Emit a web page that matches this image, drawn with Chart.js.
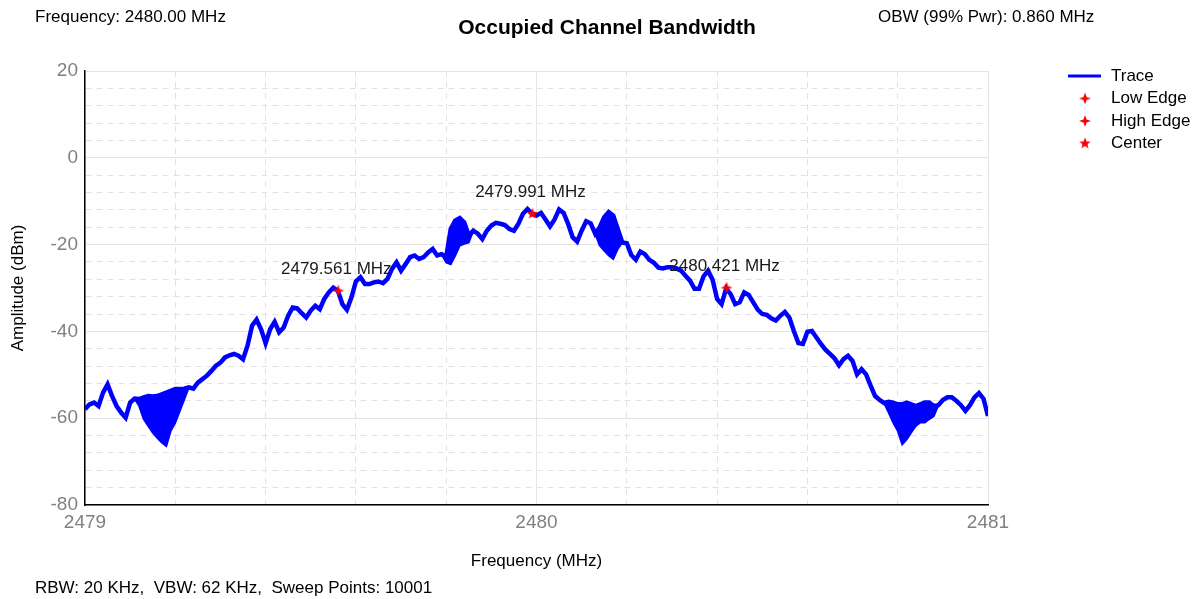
<!DOCTYPE html>
<html>
<head>
<meta charset="utf-8">
<script src="https://cdn.jsdelivr.net/npm/chart.js@4/dist/chart.umd.min.js"></script>
<style>
  html, body { margin: 0; padding: 0; background: #ffffff; }
  canvas { display: block; }
</style>
</head>
<body>
<canvas id="graficoObw" width="1203" height="599"></canvas>
<script>
// ------------------------------------------------ DATOS ------------------------------------------------

    const traceDbm = [
        -57.9, -56.8, -56.4, -57.2, -54.1, -52.2, -54.9, -57.2, -58.7, -59.9,
        -56.4, -55.5, -55.6, -55.2, -54.9, -55.0, -54.9, -54.5, -54.1, -53.7,
        -53.3, -53.3, -53.2, -52.9, -53.2, -51.8, -51.0, -50.2, -49.1, -47.9,
        -47.2, -46.0, -45.5, -45.2, -45.6, -46.4, -43.3, -38.7, -37.3, -39.5,
        -42.7, -39.5, -37.8, -40.2, -39.1, -36.4, -34.5, -34.7, -35.8, -36.8,
        -35.2, -34.1, -34.9, -32.5, -31.0, -29.9, -30.6, -33.7, -35.0, -32.2,
        -28.5, -27.5, -29.1, -29.1, -28.7, -28.5, -28.9, -27.9, -25.6, -24.1,
        -26.0, -24.5, -22.9, -22.5, -23.3, -22.9, -21.8, -21.0, -22.5, -22.2,
        -22.9, -16.4, -14.5, -13.9, -14.9, -17.9, -16.8, -17.5, -18.7, -16.8,
        -15.6, -15.0, -15.2, -15.5, -16.4, -16.8, -15.2, -12.9, -11.8, -12.9,
        -13.3, -12.7, -14.2, -15.8, -14.2, -11.9, -12.7, -15.2, -18.3, -19.3,
        -16.8, -14.6, -15.1, -17.5, -16.0, -13.7, -12.5, -13.3, -16.4, -19.5,
        -19.7, -22.4, -23.5, -21.6, -22.2, -23.5, -24.2, -25.3, -25.5, -25.2,
        -25.2, -25.5, -26.0, -27.2, -28.3, -30.2, -30.2, -27.3, -26.0, -28.1,
        -32.5, -33.7, -30.1, -31.4, -33.7, -33.3, -31.0, -31.6, -33.3, -35.0,
        -36.0, -36.2, -37.0, -37.5, -36.4, -35.5, -36.8, -39.9, -42.7, -42.9,
        -40.1, -39.9, -41.4, -42.9, -44.2, -45.2, -46.2, -47.8, -46.4, -45.6,
        -46.8, -49.9, -48.7, -49.9, -52.5, -54.9, -55.8, -56.5, -56.2, -56.4,
        -56.8, -56.8, -56.4, -56.8, -57.2, -56.8, -56.4, -56.4, -57.2, -57.0,
        -55.8, -55.2, -55.2, -56.0, -57.0, -58.3, -57.0, -55.2, -54.2, -55.5,
        -59.5
    ];

    // lower edge of the noisy (thick) parts of the trace, index -> dBm
    const bandaInferior = {
        12: -57.2, 13: -60.2, 14: -61.8, 15: -63.3, 16: -64.5, 17: -65.6,
        18: -66.4, 19: -62.9, 20: -61.0, 21: -58.3, 22: -55.6,
        80: -24.1, 81: -24.5, 82: -22.5, 83: -20.2, 84: -19.8, 85: -19.5,
        114: -20.2, 115: -21.4, 116: -22.5, 117: -23.3, 118: -21.0,
        178: -58.7, 179: -61.0, 180: -62.9, 181: -66.0, 182: -64.9, 183: -63.3,
        184: -61.8, 185: -61.0, 186: -61.0, 187: -60.2, 188: -59.5
    };

    const freqInicio = 2479;
    const freqPaso = 0.01;

    const marcadoresNombres = ["Low Edge", "High Edge", "Center"];
    const marcadoresFreq = [2479.561, 2480.421, 2479.991];
    const marcadoresDbm = [-30.6, -29.9, -12.9];

    const ticksFreqEtiquetas = [2479, 2480, 2481];
    const ticksDbmEtiquetas = [-80, -60, -40, -20, 0, 20];

    const textoFrecuencia = 'Frequency: 2480.00 MHz';
    const textoTitulo = 'Occupied Channel Bandwidth';
    const textoObw = 'OBW (99% Pwr): 0.860 MHz';
    const textoPie = 'RBW: 20 KHz,  VBW: 62 KHz,  Sweep Points: 10001';

// ------------------------------------------------ ESTRELLAS ------------------------------------------------

    function crearEstrella(puntas, rExt, rInt) {
        const c = document.createElement('canvas');
        const s = Math.ceil(rExt * 2 + 2);
        c.width = s; c.height = s;
        const g = c.getContext('2d');
        g.fillStyle = '#ff0000';
        g.beginPath();
        for (let i = 0; i < puntas * 2; i++) {
            const r = i % 2 === 0 ? rExt : rInt;
            const a = -Math.PI / 2 + i * Math.PI / puntas;
            const px = s / 2 + r * Math.cos(a);
            const py = s / 2 + r * Math.sin(a);
            if (i === 0) g.moveTo(px, py); else g.lineTo(px, py);
        }
        g.closePath();
        g.fill();
        return c;
    }

    const estrella4 = crearEstrella(4, 6, 2.2);
    const estrella5 = crearEstrella(5, 6, 2.6);
    const marcadoresIconos = [estrella4, estrella4, estrella5];

// ------------------------------------------------ DATASETS ------------------------------------------------

    const puntosTraza = traceDbm.map((v, i) => ({ x: +(freqInicio + i * freqPaso).toFixed(2), y: v }));
    const puntosBanda = traceDbm.map((v, i) => ({
        x: +(freqInicio + i * freqPaso).toFixed(2),
        y: bandaInferior[i] !== undefined ? bandaInferior[i] : v
    }));

    const datasets = [{
        label: 'Trace',
        data: puntosTraza,
        borderColor: '#0000ff',
        backgroundColor: '#0000ff',
        borderWidth: 4.5,
        pointRadius: 0,
        tension: 0,
        order: 2
    }, {
        label: '',
        data: puntosBanda,
        borderColor: '#0000ff',
        backgroundColor: '#0000ff',
        borderWidth: 2,
        pointRadius: 0,
        tension: 0,
        fill: '-1',
        order: 3
    }];

    marcadoresNombres.forEach((nombre, i) => {
        datasets.push({
            label: nombre,
            data: [{ x: marcadoresFreq[i], y: marcadoresDbm[i] }],
            showLine: false,
            pointStyle: marcadoresIconos[i],
            pointRadius: 6,
            borderColor: '#ff0000',
            backgroundColor: '#ff0000',
            order: 1
        });
    });

// ------------------------------------------------ TEXTOS / LEYENDA ------------------------------------------------

    const fuente = '"Liberation Sans", Arial, sans-serif';

    const pluginTextos = {
        id: 'textos',
        afterDraw(chart) {
            const ctx = chart.ctx;
            ctx.save();
            ctx.textBaseline = 'middle';

            ctx.fillStyle = '#000000';
            ctx.font = '17px ' + fuente;
            ctx.textAlign = 'left';
            ctx.fillText(textoFrecuencia, 35, 17);
            ctx.fillText(textoObw, 878, 17);
            ctx.fillText(textoPie, 35, 588);

            ctx.font = 'bold 21px ' + fuente;
            ctx.textAlign = 'center';
            ctx.fillText(textoTitulo, 607, 28);

            // etiquetas de los marcadores
            ctx.font = '17px ' + fuente;
            ctx.fillStyle = '#1a1a1a';
            for (let d = 2; d < chart.data.datasets.length; d++) {
                const p = chart.getDatasetMeta(d).data[0];
                ctx.fillText(marcadoresFreq[d - 2].toFixed(3) + ' MHz', p.x - 2, p.y - 21);
            }

            // leyenda
            const filas = [76, 98.5, 121, 143.5];
            ctx.textAlign = 'left';
            ctx.fillStyle = '#000000';
            ctx.strokeStyle = '#0000ff';
            ctx.lineWidth = 3;
            ctx.beginPath();
            ctx.moveTo(1068, filas[0]);
            ctx.lineTo(1101, filas[0]);
            ctx.stroke();
            ctx.fillText('Trace', 1111, filas[0]);
            marcadoresNombres.forEach((nombre, i) => {
                const ic = marcadoresIconos[i];
                ctx.drawImage(ic, 1085 - ic.width / 2, filas[i + 1] - ic.height / 2);
                ctx.fillText(nombre, 1111, filas[i + 1]);
            });
            ctx.restore();
        }
    };

// ------------------------------------------------ GRAFICO ------------------------------------------------

    const esEntero = (v) => Math.abs(v - Math.round(v)) < 1e-6;

    const configObw = {
        type: 'line',
        data: { datasets: datasets },
        options: {
            responsive: false,
            animation: false,
            devicePixelRatio: 1,
            layout: { padding: { top: 71, right: 215, bottom: 0, left: 0 } },
            plugins: {
                legend: { display: false },
                tooltip: { enabled: false }
            },
            scales: {
                x: {
                    type: 'linear',
                    min: 2479,
                    max: 2481,
                    afterFit: (s) => { s.height = 94; },
                    ticks: {
                        stepSize: 0.2,
                        color: '#808080',
                        font: { family: fuente, size: 19 },
                        padding: 6,
                        maxRotation: 0,
                        autoSkip: false,
                        callback: (v) => ticksFreqEtiquetas.some(t => Math.abs(t - v) < 1e-6) ? String(Math.round(v)) : ''
                    },
                    grid: {
                        drawTicks: false,
                        color: (c) => (c.tick && esEntero(c.tick.value)) ? '#e4e4e4' : '#e2e2e2',
                        lineWidth: 1
                    },
                    border: {
                        color: '#000000',
                        width: 1.5,
                        dash: (c) => (c.tick && !esEntero(c.tick.value)) ? [6, 5] : []
                    },
                    title: {
                        display: true,
                        text: 'Frequency (MHz)',
                        color: '#000000',
                        font: { family: fuente, size: 17 },
                        padding: { top: 0, bottom: 27 }
                    }
                },
                y: {
                    min: -80,
                    max: 20,
                    afterFit: (s) => { s.width = 85; },
                    ticks: {
                        stepSize: 4,
                        color: '#808080',
                        font: { family: fuente, size: 19 },
                        padding: 7,
                        autoSkip: false,
                        callback: (v) => ticksDbmEtiquetas.includes(Math.round(v)) && esEntero(v) ? String(Math.round(v)) : ''
                    },
                    grid: {
                        drawTicks: false,
                        color: (c) => (c.tick && c.tick.value % 20 === 0) ? '#e4e4e4' : '#e2e2e2',
                        lineWidth: 1
                    },
                    border: {
                        color: '#000000',
                        width: 1.5,
                        dash: (c) => (c.tick && c.tick.value % 20 !== 0) ? [6, 5] : []
                    },
                    title: {
                        display: true,
                        text: 'Amplitude (dBm)',
                        color: '#000000',
                        font: { family: fuente, size: 17 },
                        padding: { top: 8, bottom: 0 }
                    }
                }
            }
        },
        plugins: [pluginTextos]
    };

    var obwChart = new Chart(document.getElementById('graficoObw'), configObw);
</script>
</body>
</html>
